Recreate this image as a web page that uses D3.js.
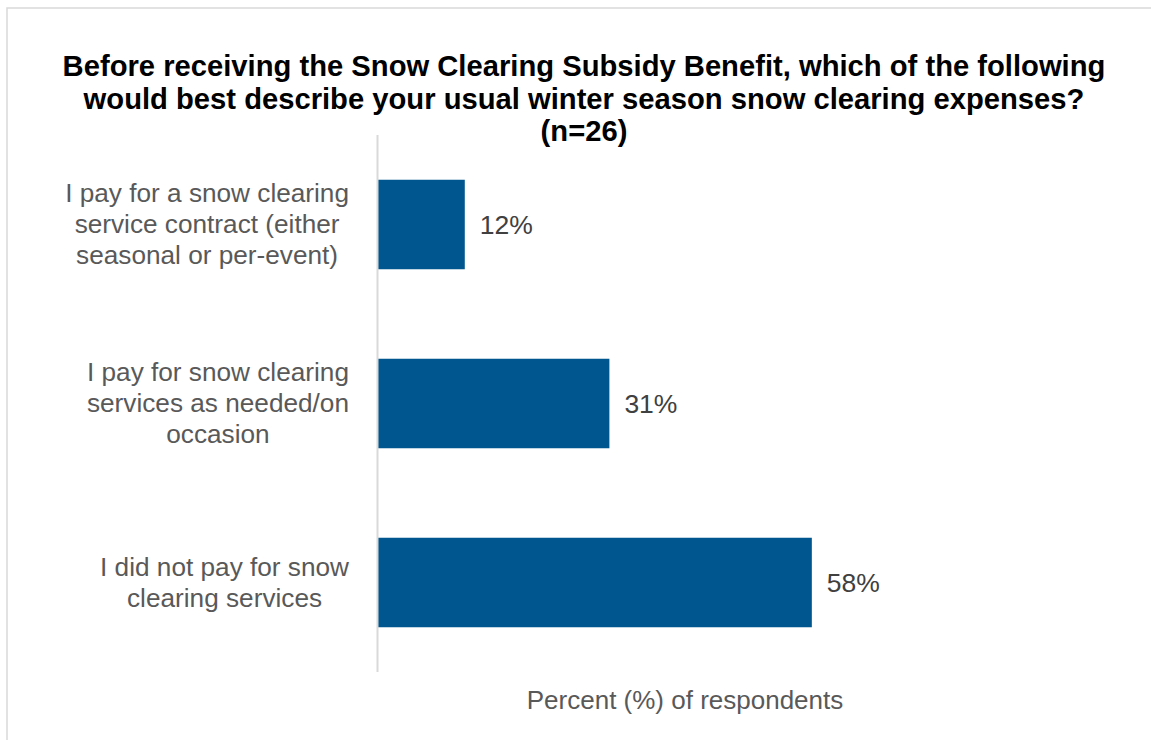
<!DOCTYPE html>
<html><head><meta charset="utf-8">
<script src="https://cdn.jsdelivr.net/npm/d3@7"></script>
<style>html,body{margin:0;padding:0;background:#fff;} svg{display:block;}</style>
</head><body>
<script>
const categories = [
  ["I pay for a snow clearing", "service contract (either", "seasonal or per-event)"],
  ["I pay for snow clearing", "services as needed/on", "occasion"],
  ["I did not pay for snow", "clearing services"]
];
const values = [11.54, 30.77, 57.69];
const valueLabels = ["12%", "31%", "58%"];
const titleLines = [
  "Before receiving the Snow Clearing Subsidy Benefit, which of the following",
  "would best describe your usual winter season snow clearing expenses?",
  "(n=26)"
];
const axisTitle = "Percent (%) of respondents";

const W = 1151, H = 740;
const svg = d3.select("body").append("svg").attr("width", W).attr("height", H);
const font = "Liberation Sans, Arial, sans-serif";

svg.append("rect").attr("x", 7).attr("y", 8).attr("width", W + 10).attr("height", H + 10)
  .attr("fill", "none").attr("stroke", "#d9d9d9").attr("stroke-width", 1.5);

const left = 378, plotTop = 135, plotBottom = 672;
const x = d3.scaleLinear().domain([0, 100]).range([left, left + 752]);
const y = d3.scaleBand().domain(d3.range(categories.length)).range([plotTop, plotBottom]).paddingInner(0.5).paddingOuter(0.25);

const title = svg.append("text").attr("font-family", font).attr("font-weight", "bold")
  .attr("font-size", 29.2).attr("fill", "#000").attr("text-anchor", "middle");
titleLines.forEach((t, i) => title.append("tspan").attr("x", 584).attr("y", 76 + i * 32.5).text(t));

svg.selectAll("rect.bar").data(values).join("rect").attr("class", "bar")
  .attr("x", x(0)).attr("y", (d, i) => y(i)).attr("width", d => x(d) - x(0))
  .attr("height", y.bandwidth()).attr("fill", "#00568F");

svg.append("line").attr("x1", left - 0.5).attr("x2", left - 0.5).attr("y1", plotTop).attr("y2", plotBottom)
  .attr("stroke", "#d9d9d9").attr("stroke-width", 2);

svg.selectAll("text.val").data(values).join("text").attr("class", "val")
  .attr("x", d => x(d) + 15).attr("y", (d, i) => y(i) + y.bandwidth() / 2 + 9)
  .attr("font-family", font).attr("font-size", 26.5).attr("fill", "#404040")
  .text((d, i) => valueLabels[i]);

categories.forEach((lines, i) => {
  const cy = y(i) + y.bandwidth() / 2;
  const lh = 31;
  const t = svg.append("text").attr("font-family", font).attr("font-size", 26.2)
    .attr("fill", "#595959").attr("text-anchor", "middle");
  const spans = lines.map((l, j) => t.append("tspan")
    .attr("y", cy + (j - (lines.length - 1) / 2) * lh + 8.5).text(l));
  const maxW = d3.max(spans, s => s.node().getComputedTextLength());
  spans.forEach(s => s.attr("x", 349 - maxW / 2));
});

svg.append("text").attr("x", 685).attr("y", 709).attr("text-anchor", "middle")
  .attr("font-family", font).attr("font-size", 26).attr("fill", "#595959").text(axisTitle);
</script>
</body></html>
